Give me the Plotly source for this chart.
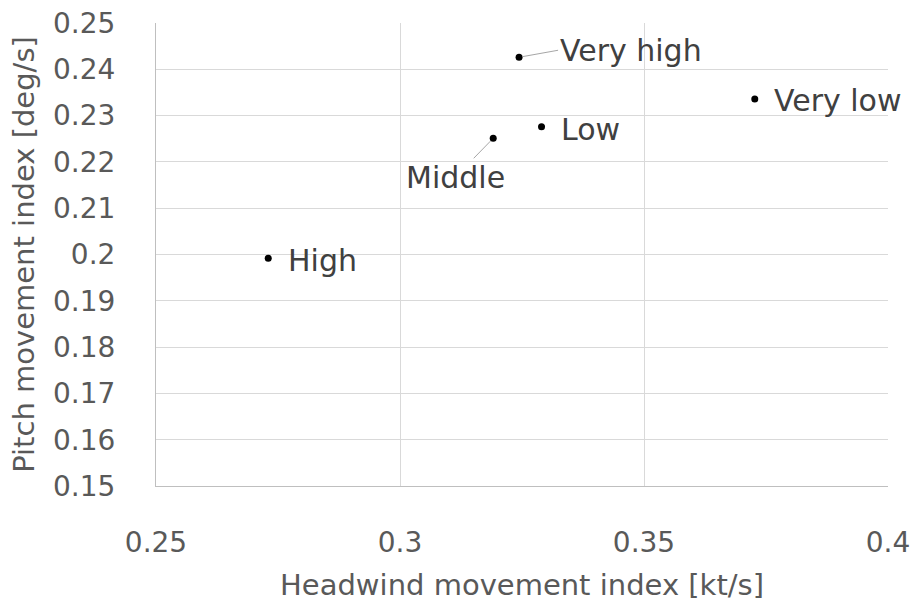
import plotly.graph_objects as go

labels = ["Very high", "Very low", "Low", "Middle", "High"]
headwind = [0.3244, 0.3727, 0.329, 0.3191, 0.273]
pitch = [0.2426, 0.2336, 0.2276, 0.2251, 0.1992]

x_ticks = [0.25, 0.3, 0.35, 0.4]
x_ticktext = ["0.25", "0.3", "0.35", "0.4"]
y_ticks = [0.15, 0.16, 0.17, 0.18, 0.19, 0.2, 0.21, 0.22, 0.23, 0.24, 0.25]
y_ticktext = ["0.15", "0.16", "0.17", "0.18", "0.19", "0.2", "0.21", "0.22", "0.23", "0.24", "0.25"]

FONT = "DejaVu Sans"
GREY = "#595959"
LABEL_COLOR = "#404040"

fig = go.Figure()
fig.add_trace(go.Scatter(x=headwind, y=pitch, mode="markers",
                         marker=dict(color="black", size=7), showlegend=False))

label_style = {
    "Very high": dict(ax=39, ay=-7, xanchor="left", showarrow=True),
    "Very low": dict(ax=17, ay=2, xanchor="left", showarrow=False),
    "Low": dict(ax=17, ay=3, xanchor="left", showarrow=False),
    "Middle": dict(ax=-38, ay=39, xanchor="center", showarrow=True),
    "High": dict(ax=18, ay=2, xanchor="left", showarrow=False),
}
for lab, xv, yv in zip(labels, headwind, pitch):
    st = label_style[lab]
    if st["showarrow"]:
        fig.add_annotation(x=xv, y=yv, text=lab, showarrow=True, arrowhead=0,
                           arrowwidth=1, arrowcolor="#a6a6a6", ax=st["ax"], ay=st["ay"],
                           xanchor=st["xanchor"], standoff=4,
                           font=dict(family=FONT, size=30, color=LABEL_COLOR))
    else:
        fig.add_annotation(x=xv, y=yv, text=lab, showarrow=False, xanchor="left",
                           xshift=st["ax"], yshift=-st["ay"],
                           font=dict(family=FONT, size=30, color=LABEL_COLOR))

fig.update_layout(
    width=912, height=607,
    margin=dict(l=156, r=24, t=23, b=121),
    plot_bgcolor="white", paper_bgcolor="white",
    font=dict(family=FONT, color=GREY, size=28),
)
fig.update_xaxes(range=[0.25, 0.4], tickvals=x_ticks, ticktext=x_ticktext,
                 showgrid=True, gridcolor="#d9d9d9", gridwidth=1,
                 showline=True, linecolor="#bfbfbf", linewidth=1, zeroline=False,
                 ticks="", ticklabelstandoff=31, automargin=False,
                 tickfont=dict(family=FONT, size=28, color=GREY),
                 title=dict(text="Headwind movement index [kt/s]", standoff=17,
                            font=dict(family=FONT, size=29, color=GREY)))
fig.update_yaxes(range=[0.15, 0.25], tickvals=y_ticks, ticktext=y_ticktext,
                 showgrid=True, gridcolor="#d9d9d9", gridwidth=1,
                 showline=True, linecolor="#bfbfbf", linewidth=1, zeroline=False,
                 ticks="", ticklabelstandoff=34, automargin=False,
                 tickfont=dict(family=FONT, size=28, color=GREY),
                 title=dict(text="Pitch movement index [deg/s]", standoff=9,
                            font=dict(family=FONT, size=29, color=GREY)))

fig.write_html("out.html", config={"displayModeBar": False},
               post_script="document.body.style.margin='0';document.body.style.overflow='hidden';")
